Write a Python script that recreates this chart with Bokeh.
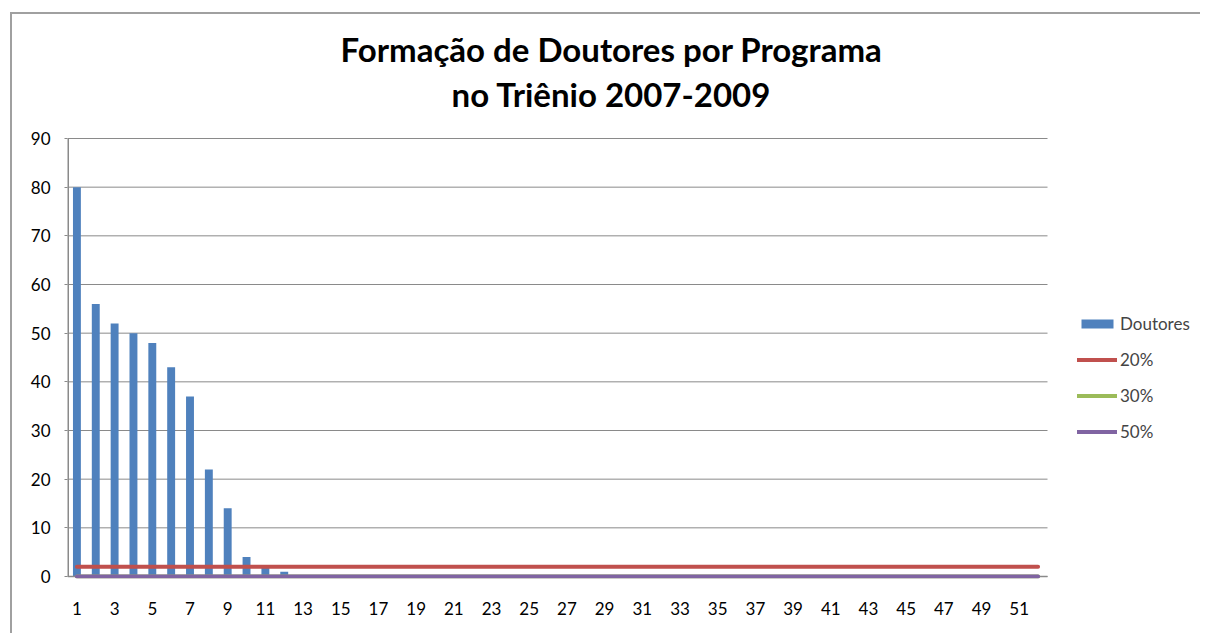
from bokeh.plotting import figure
from bokeh.models import (ColumnDataSource, Legend, LegendItem, Label, FixedTicker, Range1d)
from bokeh.embed import file_html
from bokeh.resources import INLINE

programas = list(range(1, 53))
doutores = [80, 56, 52, 50, 48, 43, 37, 22, 14, 4, 2, 1,
            0, 0, 0, 0, 0, 0, 0, 0, 0, 0, 0, 0, 0, 0, 0, 0, 0, 0,
            0, 0, 0, 0, 0, 0, 0, 0, 0, 0, 0, 0, 0, 0, 0, 0, 0, 0,
            0, 0, 0, 0]
linha_20 = [2] * 52
linha_30 = [0] * 52
linha_50 = [0] * 52
x_ticks = [1, 3, 5, 7, 9, 11, 13, 15, 17, 19, 21, 23, 25, 27, 29, 31, 33, 35,
           37, 39, 41, 43, 45, 47, 49, 51]
y_ticks = [0, 10, 20, 30, 40, 50, 60, 70, 80, 90]
y_max = 90
title_lines = ["Formação de Doutores por Programa", "no Triênio 2007-2009"]

FONT = "Lato"
GRID = "#8a8a8a"

# layout (pixels)
W, H = 1190, 621
LEFT, BOTTOM = 55, 57
PLOT_W, PLOT_H = 980, 438          # size of the real plotting area in pixels
BELOW_ZERO_PX = 2                  # room under the zero line so thick lines are not cut
frame_w = W - LEFT
frame_h = H - BOTTOM
x0 = 0.5
x1_cat = len(programas) + 0.5
x_end = x0 + (x1_cat - x0) * frame_w / PLOT_W
units_per_px = y_max / PLOT_H
y_start = -BELOW_ZERO_PX * units_per_px
y_end = y_start + frame_h * units_per_px

src = ColumnDataSource(dict(x=programas, d=doutores, l20=linha_20, l30=linha_30, l50=linha_50))
grid_src = ColumnDataSource(dict(x0=[x0] * len(y_ticks), x1=[x1_cat] * len(y_ticks), y=y_ticks))

p = figure(width=W, height=H, output_backend="svg", toolbar_location=None,
           x_range=Range1d(x0, x_end), y_range=Range1d(y_start, y_end),
           min_border_left=LEFT, min_border_right=0, min_border_top=0, min_border_bottom=BOTTOM)
p.margin = (12, 0, 0, 10)
p.styles = {"border-top": "2px solid #a0a0a0", "border-left": "2px solid #a0a0a0"}
p.title.visible = False
p.outline_line_color = None
p.background_fill_color = "white"
p.border_fill_color = "white"
p.xgrid.visible = False
p.ygrid.visible = False

p.segment(x0="x0", x1="x1", y0="y", y1="y", source=grid_src, line_color=GRID, line_width=1)

bars = p.vbar(x="x", top="d", width=0.42, source=src, fill_color="#4F81BD", line_color=None)
p.segment(x0=[x0], x1=[x1_cat], y0=[0], y1=[0], line_color=GRID, line_width=1.5)
p.segment(x0=[x0], x1=[x0], y0=[0], y1=[y_max], line_color=GRID, line_width=3)
r20 = p.line(x="x", y="l20", source=src, line_color="#C0504D", line_width=4, line_cap="round")
r30 = p.line(x="x", y="l30", source=src, line_color="#9BBB59", line_width=4, line_cap="round")
r50 = p.line(x="x", y="l50", source=src, line_color="#8064A2", line_width=4, line_cap="round")

p.xaxis.ticker = FixedTicker(ticks=x_ticks)
p.yaxis.ticker = FixedTicker(ticks=y_ticks)
for ax in (p.xaxis[0], p.yaxis[0]):
    ax.major_label_text_font = FONT
    ax.major_label_text_font_size = "17px"
    ax.major_label_text_color = "#000000"
    ax.minor_tick_line_color = None
    ax.axis_line_color = None
p.xaxis.major_tick_line_color = None
p.xaxis.major_label_standoff = 17
p.yaxis.major_tick_in = 0
p.yaxis.major_tick_out = 3
p.yaxis.major_tick_line_color = GRID
p.yaxis.major_label_standoff = 14

legend = Legend(items=[LegendItem(label="Doutores", renderers=[bars]),
                       LegendItem(label="20%", renderers=[r20]),
                       LegendItem(label="30%", renderers=[r30]),
                       LegendItem(label="50%", renderers=[r50])],
                location=(1010, 136), glyph_width=40, glyph_height=11,
                label_standoff=3, spacing=15, padding=0, margin=0,
                label_text_font=FONT, label_text_font_size="17px",
                border_line_color=None, background_fill_alpha=0)
p.add_layout(legend, "center")

for txt, y in zip(title_lines, (530, 485)):
    p.add_layout(Label(x=544, y=y, x_units="screen", y_units="screen", text=txt,
                       text_font=FONT, text_font_style="bold", text_font_size="33px",
                       text_color="#000000", text_align="center", text_baseline="alphabetic"))

open("out.html", "w").write(file_html(p, INLINE))
